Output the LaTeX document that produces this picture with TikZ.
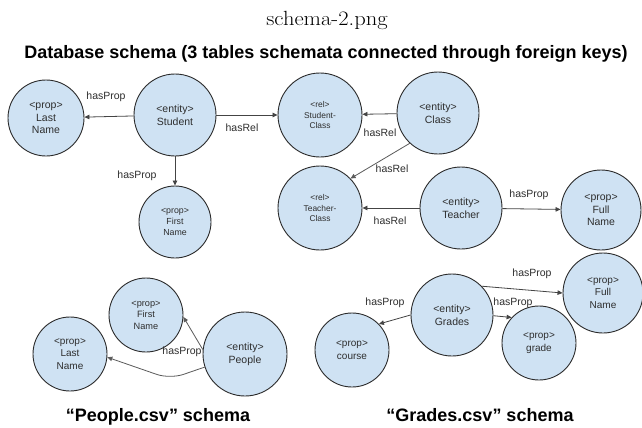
\documentclass[tikz,border=0pt]{standalone}
\usepackage{fontspec}
\usepackage{graphicx}
\newfontfamily\arialfont{Liberation Sans}
\usetikzlibrary{arrows.meta}
\definecolor{nodefill}{HTML}{CFE2F3}
\definecolor{nodeline}{HTML}{2B2B2B}
\definecolor{edgeline}{HTML}{444444}
\definecolor{edgesoft}{HTML}{5A5A5A}
\definecolor{labeltext}{HTML}{2E2E2E}

\begin{document}
\begin{tikzpicture}[x=1pt,y=-1pt,
  ent/.style={circle, draw=nodeline, line width=0.9pt, fill=nodefill,
    inner sep=0pt, align=center, text=labeltext,
    font=\arialfont\fontsize{10.5}{12.8}\selectfont},
  txtsm/.style={font=\arialfont\fontsize{8.4}{10.5}\selectfont},
  txtfn/.style={font=\arialfont\fontsize{8.8}{11}\selectfont},
  txtmd/.style={font=\arialfont\fontsize{9.2}{11.4}\selectfont},
  txtnm/.style={font=\arialfont\fontsize{10}{12.6}\selectfont},
  lbl/.style={font=\arialfont\fontsize{10.5}{12}\selectfont, text=labeltext, inner sep=0pt},
  link/.style={draw=edgeline, line width=0.8pt, -{Triangle[length=5pt,width=4.5pt]}},
  softlink/.style={link, draw=edgesoft},
  heading/.style={font=\arialfont\bfseries\fontsize{18}{20}\selectfont, anchor=base, inner sep=0pt}
]
\fill[white] (0,0) rectangle (642,428);
\useasboundingbox (0,0) rectangle (642,428);

% headings
\node[font=\fontsize{20.5}{24}\selectfont, anchor=base, inner sep=0pt] (fname) at (327,26) {\scalebox{1.1}[1]{schema-2.png}};
\node[heading] (title) at (326,59) {Database schema (3 tables schemata connected through foreign keys)};
\node[heading] (cap1) at (158,421) {“People.csv” schema};
\node[heading] (cap2) at (480,421) {“Grades.csv” schema};

% database schema
\node[ent, minimum size=76pt] (ln1) at (46,118) {<prop>\\Last\\Name};
\node[ent, minimum size=82pt] (student) at (175,115) {<entity>\\Student};
\node[ent, txtfn, minimum size=72pt] (fn1) at (175,222) {<prop>\\First\\Name};
\node[ent, txtsm, minimum size=84pt] (sc) at (320,115) {<rel>\\Student-\\Class};
\node[ent, minimum size=82pt] (class) at (438,113) {<entity>\\Class};
\node[ent, txtsm, minimum size=84pt] (tc) at (320,208) {<rel>\\Teacher-\\Class};
\node[ent, minimum size=82pt] (teacher) at (461,208) {<entity>\\Teacher};
\node[ent, minimum size=80pt] (fulln1) at (601,210) {<prop>\\Full\\Name};

% People.csv schema
\node[ent, txtmd, minimum size=74pt] (fn2) at (146,315) {<prop>\\First\\Name};
\node[ent, txtnm, minimum size=74pt] (ln2) at (70,354) {<prop>\\Last\\Name};
\node[ent, minimum size=84pt] (people) at (245,354) {<entity>\\People};

% Grades.csv schema
\node[ent, minimum size=82pt] (grades) at (452,315) {<entity>\\Grades};
\node[ent, txtnm, minimum size=74pt] (course) at (352,350) {<prop>\\course};
\node[ent, txtnm, minimum size=74pt] (grade) at (539,343) {<prop>\\grade};
\node[ent, txtnm, minimum size=80pt] (fulln2) at (603,293) {<prop>\\Full\\Name};

% connectors
\draw[link] (student) -- (ln1);
\draw[link] (student) -- (sc);
\draw[link] (student) -- (fn1);
\draw[link] (class) -- (sc);
\draw[softlink] (class.227) -- (tc.44);
\draw[link] (teacher) -- (tc);
\draw[link] (teacher) -- (fulln1);
\draw[softlink] (people.174) -- (fn2.-3);
\coordinate (bend) at (170,379);
\draw[softlink, rounded corners=14pt] (people.198) -- (bend) -- (ln2.-5);
\draw[link] (grades.44) -- (fulln2.180);
\draw[link] (grades.-1) -- (grade.137);
\draw[link] (grades.180) -- (course.44);

% connector labels
\node[lbl] (l1) at (106,97) {hasProp};
\node[lbl] (l2) at (242,128) {hasRel};
\node[lbl] (l3) at (137,176) {hasProp};
\node[lbl] (l4) at (380,133) {hasRel};
\node[lbl] (l5) at (392,169) {hasRel};
\node[lbl] (l6) at (390,221) {hasRel};
\node[lbl] (l7) at (529,195) {hasProp};
\node[lbl] (l8) at (182,352) {hasProp};
\node[lbl] (l9) at (532,274) {hasProp};
\node[lbl] (l10) at (513,303) {hasProp};
\node[lbl] (l11) at (385,303) {hasProp};
\end{tikzpicture}
\end{document}
